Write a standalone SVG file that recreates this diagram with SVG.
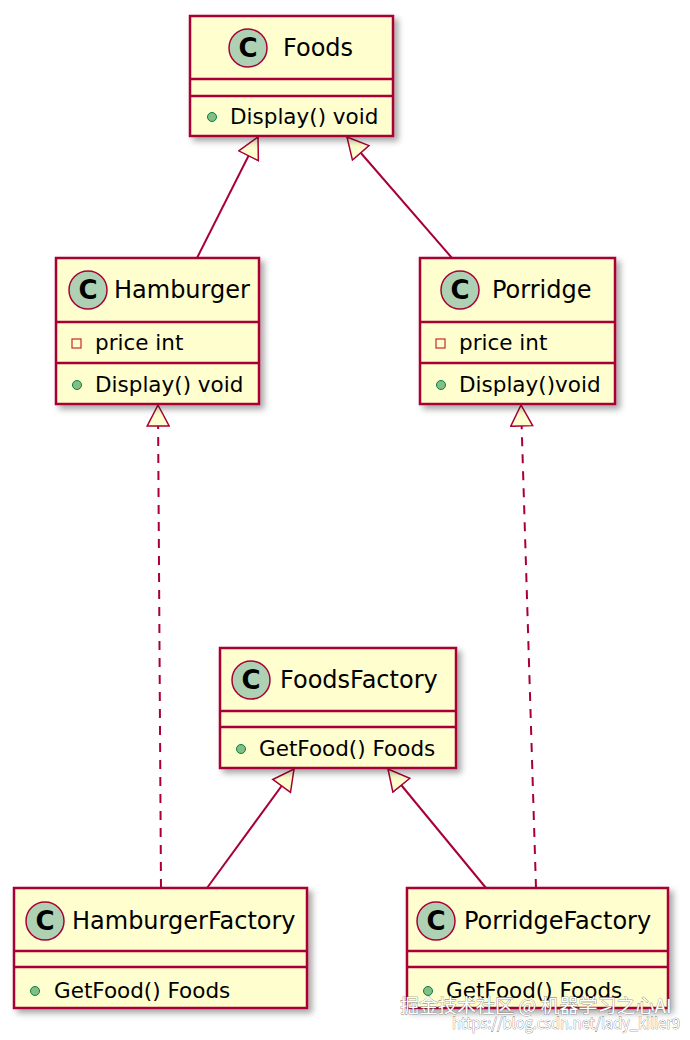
<svg xmlns="http://www.w3.org/2000/svg" width="690" height="1040" viewBox="0 0 690 1040">
<defs>
<filter id="sh" x="-10%" y="-10%" width="130%" height="130%"><feDropShadow dx="4" dy="4" stdDeviation="3" flood-color="#000" flood-opacity="0.35"/></filter>
<marker id="tri" markerUnits="userSpaceOnUse" markerWidth="24" markerHeight="24" viewBox="-1 -12 24 24" refX="21" refY="0" orient="auto"><path d="M0,-11 L21,0 L0,11 Z" fill="#fefece" stroke="#a80036" stroke-width="1.5"/></marker>
<style>
.box{fill:#fefece;stroke:#a80036;stroke-width:2.5;filter:url(#sh)}
.sep{stroke:#a80036;stroke-width:2.5}
.ci{fill:#add1b2;stroke:#a80036;stroke-width:1.5}
.cl{font-family:"DejaVu Sans",sans-serif;font-size:26px;font-weight:bold;text-anchor:middle;fill:#000}
.t{font-family:"DejaVu Sans",sans-serif;font-size:24px;fill:#000}
.m{font-family:"DejaVu Sans",sans-serif;font-size:21.5px;fill:#000}
.pub{fill:#84be84;stroke:#038048;stroke-width:1}
.pri{fill:none;stroke:#c82930;stroke-width:1.2}
.c{stroke:#a80036;stroke-width:2;fill:none;marker-end:url(#tri)}
.d{stroke-dasharray:9,8}
.wm{font-family:"Noto Sans CJK SC","DejaVu Sans",sans-serif;fill:#fff;stroke:#666;stroke-width:0.6;paint-order:stroke}
</style>
</defs>
<g id="connectors">
<path class="c" d="M197,258 L258,137"/>
<path class="c" d="M452,258 L347,137"/>
<path class="c d" d="M161,888 L158,405"/>
<path class="c d" d="M536,888 L521,405"/>
<path class="c" d="M207,888 L294,769"/>
<path class="c" d="M486,888 L388,769"/>
</g>
<g id="Foods">
<rect class="box" x="190" y="16" width="203" height="120"/>
<line class="sep" x1="190" y1="79" x2="393" y2="79"/><line class="sep" x1="190" y1="96" x2="393" y2="96"/>
<circle class="ci" cx="248" cy="48" r="19"/><text class="cl" x="248" y="57">C</text>
<text class="t" x="283" y="56">Foods</text>
<circle class="pub" cx="212" cy="117" r="4.5"/><text class="m" x="230" y="124">Display() void</text>
</g>
<g id="Hamburger">
<rect class="box" x="56" y="258" width="203" height="146"/>
<line class="sep" x1="56" y1="322" x2="259" y2="322"/><line class="sep" x1="56" y1="363" x2="259" y2="363"/>
<circle class="ci" cx="88" cy="290" r="19"/><text class="cl" x="88" y="299">C</text>
<text class="t" x="114" y="298">Hamburger</text>
<rect class="pri" x="72" y="339" width="9" height="9"/><text class="m" x="95" y="350">price int</text>
<circle class="pub" cx="77" cy="385" r="4.5"/><text class="m" x="95" y="392">Display() void</text>
</g>
<g id="Porridge">
<rect class="box" x="420" y="258" width="195" height="146"/>
<line class="sep" x1="420" y1="322" x2="615" y2="322"/><line class="sep" x1="420" y1="363" x2="615" y2="363"/>
<circle class="ci" cx="460" cy="290" r="19"/><text class="cl" x="460" y="299">C</text>
<text class="t" x="492" y="298">Porridge</text>
<rect class="pri" x="436" y="339" width="9" height="9"/><text class="m" x="459" y="350">price int</text>
<circle class="pub" cx="441" cy="385" r="4.5"/><text class="m" x="459" y="392">Display()void</text>
</g>
<g id="FoodsFactory">
<rect class="box" x="220" y="648" width="236" height="120"/>
<line class="sep" x1="220" y1="711" x2="456" y2="711"/><line class="sep" x1="220" y1="727" x2="456" y2="727"/>
<circle class="ci" cx="251" cy="680" r="19"/><text class="cl" x="251" y="689">C</text>
<text class="t" x="280" y="688">FoodsFactory</text>
<circle class="pub" cx="241" cy="749" r="4.5"/><text class="m" x="259" y="756">GetFood() Foods</text>
</g>
<g id="HamburgerFactory">
<rect class="box" x="14" y="888" width="293" height="120"/>
<line class="sep" x1="14" y1="951" x2="307" y2="951"/><line class="sep" x1="14" y1="967" x2="307" y2="967"/>
<circle class="ci" cx="45" cy="921" r="19"/><text class="cl" x="45" y="930">C</text>
<text class="t" x="72" y="929">HamburgerFactory</text>
<circle class="pub" cx="35" cy="991" r="4.5"/><text class="m" x="54" y="998">GetFood() Foods</text>
</g>
<g id="PorridgeFactory">
<rect class="box" x="407" y="888" width="261" height="120"/>
<line class="sep" x1="407" y1="951" x2="668" y2="951"/><line class="sep" x1="407" y1="967" x2="668" y2="967"/>
<circle class="ci" cx="436" cy="921" r="19"/><text class="cl" x="436" y="930">C</text>
<text class="t" x="464" y="929">PorridgeFactory</text>
<circle class="pub" cx="428" cy="991" r="4.5"/><text class="m" x="446" y="998">GetFood() Foods</text>
</g>
<text class="wm" x="400" y="1013" font-size="19">掘金技术社区 @ 机器学习之心AI</text>
<text class="wm" x="452" y="1029" font-size="15" stroke-width="0.3" fill="#eee" textLength="228" lengthAdjust="spacingAndGlyphs">https://blog.csdn.net/lady_killer9</text>
</svg>
